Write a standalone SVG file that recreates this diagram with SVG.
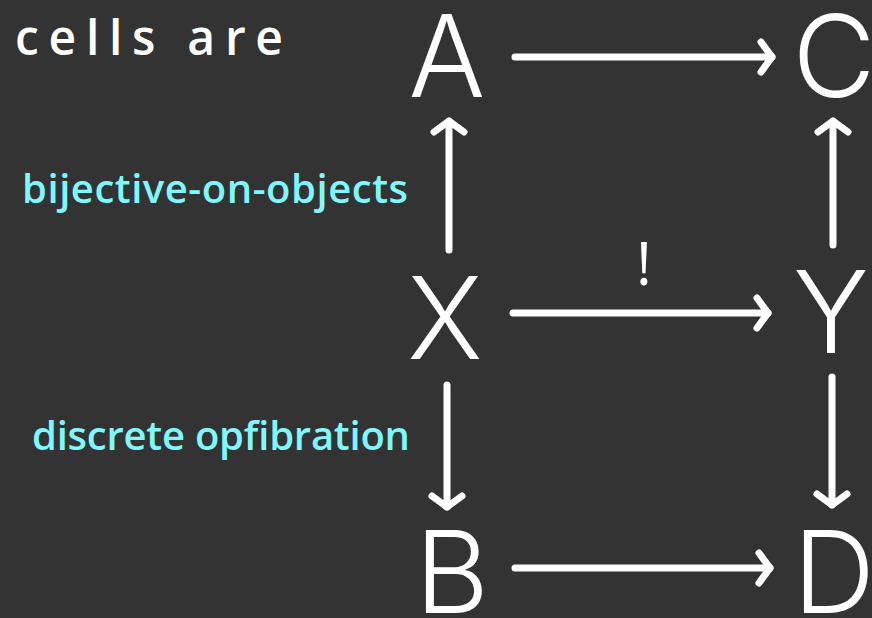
<svg xmlns="http://www.w3.org/2000/svg" width="872" height="618" viewBox="0 0 872 618">
<defs>
<style>
.bg{fill:#333333}
.node{font-family:Inter,"Liberation Sans",sans-serif;font-weight:300;font-size:114px;fill:#ffffff;text-anchor:middle}
.lbl{font-family:"Open Sans","Liberation Sans",sans-serif;font-weight:600;font-size:40px}
.edge{fill:none;stroke:#ffffff;stroke-width:7;stroke-linecap:round;stroke-linejoin:round}
</style>
<marker id="ah" markerUnits="userSpaceOnUse" viewBox="-20 -20 30 40" refX="0" refY="0" markerWidth="30" markerHeight="40" orient="auto">
<path d="M -11 -15 L 0 0 L -11 15" fill="none" stroke="#ffffff" stroke-width="7" stroke-linecap="round" stroke-linejoin="round"/>
</marker>
</defs>
<rect class="bg" x="0" y="0" width="872" height="618"/>
<g id="title"><text x="15" y="55" font-family="'Open Sans','Liberation Sans',sans-serif" font-weight="600" font-size="48" fill="#ffffff" textLength="268" lengthAdjust="spacing">cells are</text></g>
<g id="label-boo"><text class="lbl" x="22" y="203" fill="#7ff8ff" textLength="386" lengthAdjust="spacing">bijective-on-objects</text></g>
<g id="label-dopf"><text class="lbl" x="32" y="450" fill="#7ff8ff" textLength="378" lengthAdjust="spacing">discrete opfibration</text></g>
<g id="node-A"><text class="node" x="447" y="97">A</text></g>
<g id="node-C"><text class="node" x="834" y="97">C</text></g>
<g id="node-X"><text class="node" x="445" y="359">X</text></g>
<g id="node-Y"><text class="node" x="831" y="353">Y</text></g>
<g id="node-B"><text class="node" x="452" y="613">B</text></g>
<g id="node-D"><text class="node" x="834" y="613">D</text></g>
<g id="connectors">
<path class="edge" d="M 515 57 L 772 57" marker-end="url(#ah)"/>
<path class="edge" d="M 513 313 L 768 313" marker-end="url(#ah)"/>
<path class="edge" d="M 515 568 L 770 568" marker-end="url(#ah)"/>
<path class="edge" d="M 449 250 L 449 121" marker-end="url(#ah)"/>
<path class="edge" d="M 833 245 L 833 121" marker-end="url(#ah)"/>
<path class="edge" d="M 447 385 L 447 507" marker-end="url(#ah)"/>
<path class="edge" d="M 832 377 L 832 505" marker-end="url(#ah)"/>
<text x="644" y="285" font-family="'Open Sans','Liberation Sans',sans-serif" font-size="60" fill="#ffffff" text-anchor="middle">!</text>
</g>
</svg>
